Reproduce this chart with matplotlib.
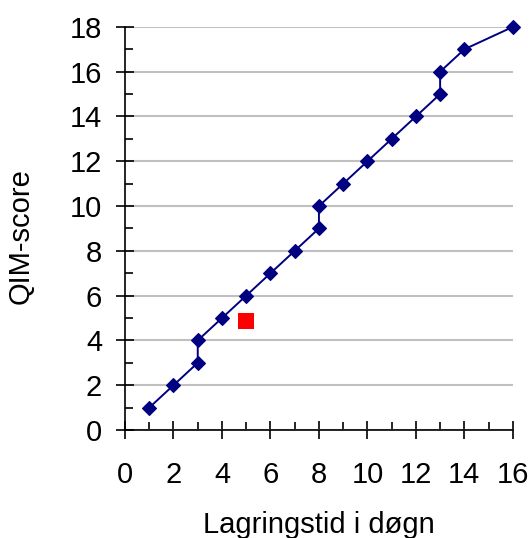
import matplotlib
matplotlib.use("Agg")
import matplotlib.pyplot as plt
from matplotlib.ticker import MultipleLocator

plt.rcParams['font.family'] = ['Liberation Sans', 'DejaVu Sans']

# lagringstid (dage) og QIM-score
days = [1, 2, 3, 3, 4, 5, 6, 7, 8, 8, 9, 10, 11, 12, 13, 13, 14, 16]
qim = [1, 2, 3, 4, 5, 6, 7, 8, 9, 10, 11, 12, 13, 14, 15, 16, 17, 18]
# enkelt maaling
test_x = [5]
test_y = [4.87]

fig = plt.figure(figsize=(5.32, 5.38), dpi=100)
ax = fig.add_axes([0.235, 0.2007, 0.729, 0.7493])

ax.set_xlim(0, 16)
ax.set_ylim(0, 18)
ax.yaxis.grid(True, color='#c0c0c0', linewidth=1.5)
ax.set_axisbelow(True)

ax.plot(days, qim, color='#000080', linewidth=1.4, marker='D', markersize=7.5,
        markeredgewidth=0.8, markerfacecolor='#000080', markeredgecolor='#000080',
        clip_on=False, zorder=3)
ax.plot(test_x, test_y, linestyle='none', marker='s', markersize=12,
        markeredgewidth=0, color='#ff0000', zorder=4)

for s in ['top', 'right']:
    ax.spines[s].set_visible(False)
ax.spines['left'].set_linewidth(1.2)
ax.spines['bottom'].set_linewidth(1.2)

ax.xaxis.set_major_locator(MultipleLocator(2))
ax.xaxis.set_minor_locator(MultipleLocator(1))
ax.yaxis.set_major_locator(MultipleLocator(2))
ax.yaxis.set_minor_locator(MultipleLocator(1))
ax.tick_params(which='major', direction='inout', length=13, width=1.2,
               labelsize=21)
ax.tick_params(axis='x', which='major', pad=15.5)
ax.tick_params(axis='y', which='major', pad=10)
ax.tick_params(which='minor', direction='in', length=6, width=1.2)

ax.set_xlabel('Lagringstid i døgn', fontsize=21)
ax.set_ylabel('QIM-score', fontsize=21)
ax.xaxis.set_label_coords(0.5, -0.2)
ax.yaxis.set_label_coords(-0.232, 0.48)

fig.savefig('out.png', dpi=100)
